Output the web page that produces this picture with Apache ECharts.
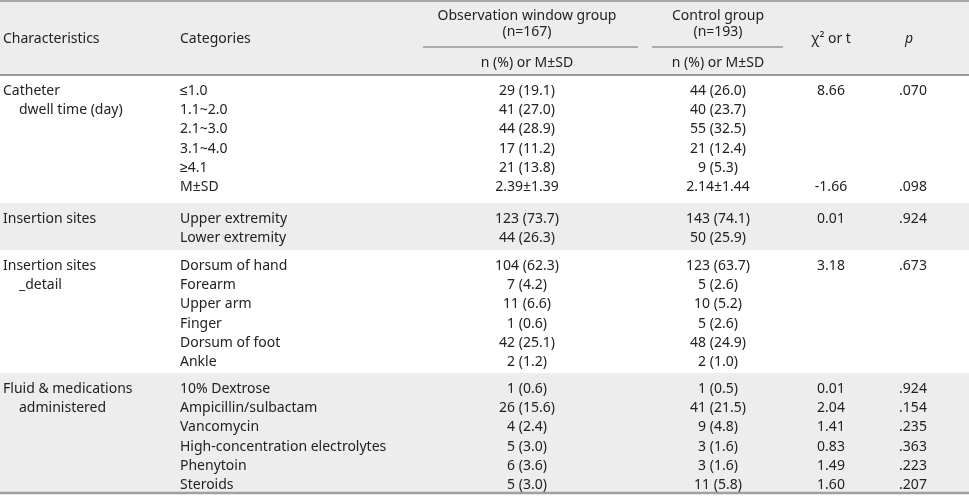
<!DOCTYPE html>
<html>
<head>
<meta charset="utf-8">
<script src="https://cdn.jsdelivr.net/npm/echarts@6/dist/echarts.min.js"></script>
<style>
html,body{margin:0;padding:0;background:#fff;}
#chart{width:969px;height:497px;}
</style>
</head>
<body>
<div id="chart"></div>
<script>
// ---------- DATA ----------
const characteristicNames = [
  ['Catheter', 'dwell time (day)'],
  ['Insertion sites'],
  ['Insertion sites', '_detail'],
  ['Fluid & medications', 'administered']
];
const groupSizes = [6, 2, 6, 6];
const categories = [
  '≤1.0', '1.1~2.0', '2.1~3.0', '3.1~4.0', '≥4.1', 'M±SD',
  'Upper extremity', 'Lower extremity',
  'Dorsum of hand', 'Forearm', 'Upper arm', 'Finger', 'Dorsum of foot', 'Ankle',
  '10% Dextrose', 'Ampicillin/sulbactam', 'Vancomycin', 'High-concentration electrolytes', 'Phenytoin', 'Steroids'
];
const observationGroup = [
  '29 (19.1)', '41 (27.0)', '44 (28.9)', '17 (11.2)', '21 (13.8)', '2.39±1.39',
  '123 (73.7)', '44 (26.3)',
  '104 (62.3)', '7 (4.2)', '11 (6.6)', '1 (0.6)', '42 (25.1)', '2 (1.2)',
  '1 (0.6)', '26 (15.6)', '4 (2.4)', '5 (3.0)', '6 (3.6)', '5 (3.0)'
];
const controlGroup = [
  '44 (26.0)', '40 (23.7)', '55 (32.5)', '21 (12.4)', '9 (5.3)', '2.14±1.44',
  '143 (74.1)', '50 (25.9)',
  '123 (63.7)', '5 (2.6)', '10 (5.2)', '5 (2.6)', '48 (24.9)', '2 (1.0)',
  '1 (0.5)', '41 (21.5)', '9 (4.8)', '3 (1.6)', '3 (1.6)', '11 (5.8)'
];
const statValues = [
  '8.66', '', '', '', '', '-1.66',
  '0.01', '',
  '3.18', '', '', '', '', '',
  '0.01', '2.04', '1.41', '0.83', '1.49', '1.60'
];
const pValues = [
  '.070', '', '', '', '', '.098',
  '.924', '',
  '.673', '', '', '', '', '',
  '.924', '.154', '.235', '.363', '.223', '.207'
];
const headerMain = ['Characteristics', 'Categories', 'Observation window group', 'Control group', 'χ² or t', 'p'];
const headerN = ['(n=167)', '(n=193)'];
const headerSub = ['n (%) or M±SD', 'n (%) or M±SD'];

// ---------- LAYOUT ----------
const W = 969, H = 497;
const FONT = '"Noto Sans", sans-serif';
const FS = 14;
const TXT = '#222222';
const colX = [3, 180, 527, 718, 831, 913];
const indentX = 19;
const headerTop = 1, headerBottom = 75;
const bandHeights = [128, 47, 123, 120];
const rowH = 19.2, firstRowOffset = 16;
const shaded = [false, true, false, true];

// bands & row centres derived from group structure
const bands = [];
const rowY = [];
let bandTop = headerBottom;
groupSizes.forEach((n, g) => {
  bands.push({ top: bandTop, bottom: bandTop + bandHeights[g], shaded: shaded[g], first: rowY.length });
  for (let i = 0; i < n; i++) rowY.push(bandTop + firstRowOffset + i * rowH);
  bandTop += bandHeights[g];
});

// cells
const cells = [];
function cell(x, y, text, align, opts) {
  cells.push(Object.assign({ x: x, y: y, text: text, align: align }, opts || {}));
}
// header
cell(colX[0], 39, headerMain[0], 'left');
cell(colX[1], 39, headerMain[1], 'left');
cell(colX[2], 16, headerMain[2], 'center');
cell(colX[2], 32.5, headerN[0], 'center');
cell(colX[2], 63, headerSub[0], 'center');
cell(colX[3], 16, headerMain[3], 'center');
cell(colX[3], 32.5, headerN[1], 'center');
cell(colX[3], 63, headerSub[1], 'center');
cell(colX[4], 39, headerMain[4], 'center');
cell(colX[5] - 4, 39, headerMain[5], 'center', { italic: true });
// body
bands.forEach((b, g) => {
  characteristicNames[g].forEach((t, k) => {
    cell(k === 0 ? colX[0] : indentX, rowY[b.first + k], t, 'left');
  });
});
categories.forEach((t, i) => {
  cell(colX[1], rowY[i], t, 'left');
  cell(colX[2], rowY[i], observationGroup[i], 'center');
  cell(colX[3], rowY[i], controlGroup[i], 'center');
  if (statValues[i]) cell(colX[4], rowY[i], statValues[i], 'center');
  if (pValues[i]) cell(colX[5], rowY[i], pValues[i], 'center');
});

// rules
const rules = [
  { x1: 0, x2: W, y: headerTop, w: 1.5, c: '#8c8c8c' },
  { x1: 423, x2: 638, y: 47, w: 1, c: '#6a6a6a' },
  { x1: 652, x2: 783, y: 47, w: 1, c: '#6a6a6a' },
  { x1: 0, x2: W, y: headerBottom, w: 1.5, c: '#7a7a7a' },
  { x1: 0, x2: W, y: bands[bands.length - 1].bottom, w: 2.5, c: '#a0a0a0' }
];

const rectsData = [{ top: headerTop, bottom: headerBottom, shaded: true }].concat(bands)
  .filter(b => b.shaded).map(b => [0, b.top, W, b.bottom]);

const chart = echarts.init(document.getElementById('chart'), null, { renderer: 'canvas' });
chart.setOption({
  animation: false,
  backgroundColor: '#ffffff',
  grid: { left: 0, right: 0, top: 0, bottom: 0 },
  xAxis: { type: 'value', min: 0, max: W, show: false },
  yAxis: { type: 'value', min: 0, max: H, inverse: true, show: false },
  series: [
    {
      type: 'custom', z: 1, silent: true,
      data: rectsData,
      renderItem: function (params, api) {
        const p1 = api.coord([api.value(0), api.value(1)]);
        const p2 = api.coord([api.value(2), api.value(3)]);
        return { type: 'rect', shape: { x: p1[0], y: p1[1], width: p2[0] - p1[0], height: p2[1] - p1[1] }, style: { fill: '#ededed' } };
      }
    },
    {
      type: 'custom', z: 2, silent: true,
      data: rules.map((r, i) => [r.x1, r.y, r.x2, i]),
      renderItem: function (params, api) {
        const r = rules[api.value(3)];
        const p1 = api.coord([api.value(0), api.value(1)]);
        const p2 = api.coord([api.value(2), api.value(1)]);
        return { type: 'line', shape: { x1: p1[0], y1: p1[1], x2: p2[0], y2: p2[1] }, style: { stroke: r.c, lineWidth: r.w } };
      }
    },
    {
      type: 'custom', z: 3, silent: true,
      data: cells.map((c, i) => [c.x, c.y, i]),
      renderItem: function (params, api) {
        const c = cells[api.value(2)];
        const p = api.coord([api.value(0), api.value(1)]);
        return {
          type: 'text', x: p[0], y: p[1],
          style: {
            text: c.text, fill: TXT,
            font: (c.italic ? 'italic ' : '') + FS + 'px ' + FONT,
            align: c.align, verticalAlign: 'middle'
          }
        };
      }
    }
  ]
});
</script>
</body>
</html>
